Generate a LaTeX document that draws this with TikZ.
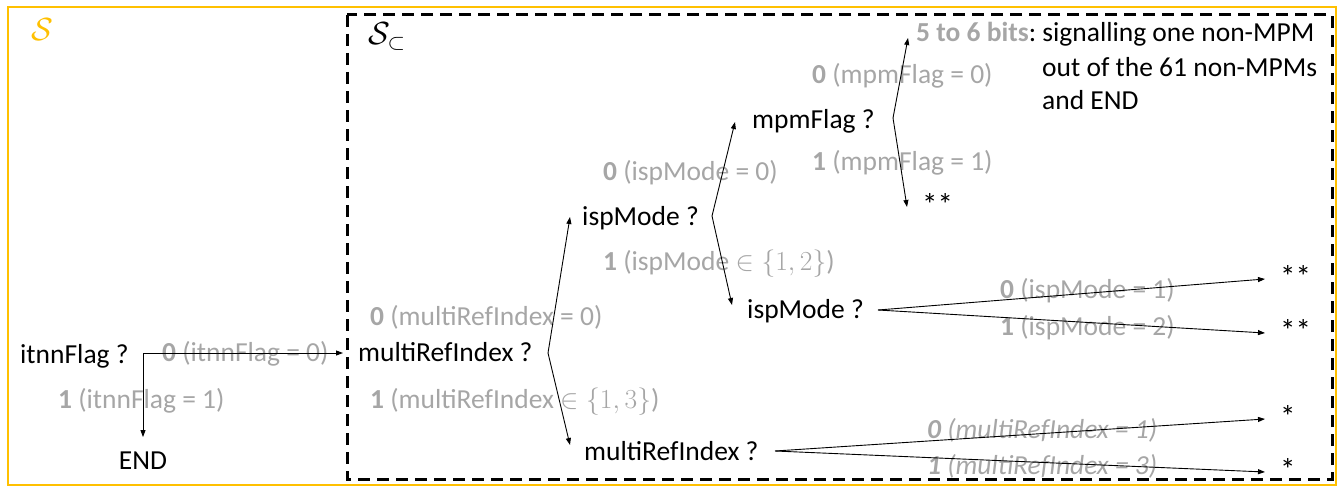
\documentclass[tikz,border=0pt]{standalone}
\usepackage{fix-cm}
\usepackage{fontspec}
\setmainfont{Carlito}
\usetikzlibrary{arrows.meta}
\definecolor{orng}{RGB}{255,192,0}
\definecolor{labgray}{RGB}{166,166,166}
\frenchspacing
\begin{document}
\begin{tikzpicture}[x=1pt,y=-1pt, font=\fontsize{27.5}{33}\selectfont,
  txt/.style={inner sep=0pt, anchor=west, text height=17.5pt, text depth=0pt},
  lab/.style={txt, text=labgray},
  star/.style={txt, font=\fontsize{31}{36}\selectfont},
  conn/.style={line width=0.9pt, -{Triangle[length=7pt,width=5pt]}},
]
\useasboundingbox (0,0) rectangle (1338,487);
\draw[orng, line width=2pt] (8,7) rectangle (1336,485);
\draw[black, line width=3pt, dash pattern=on 12pt off 7pt] (347,15) rectangle (1332,479);

% set titles
\node[txt, text=orng, font=\fontsize{32}{36}\selectfont] (S) at (31,32) {$\mathcal{S}$};
\node[txt, font=\fontsize{32}{36}\selectfont] (Ssub) at (368,36) {$\mathcal{S}_\subset$};

% decision nodes
\node[txt] (itnn) at (20,355) {itnnFlag ?};
\node[txt, anchor=center] (endn) at (143,461) {END};
\node[txt] (mri1) at (358,353) {multiRefIndex ?};
\node[txt] (isp1) at (582,217) {ispMode ?};
\node[txt] (mri2) at (584,452) {multiRefIndex ?};
\node[txt] (mpm) at (752,120) {mpmFlag ?};
\node[txt] (isp2) at (747,310) {ispMode ?};
\node[txt] (bits) at (916,33) {{\color{labgray}\textbf{5 to 6 bits}}: signalling one non-MPM};
\node[txt] (cont1) at (1042,68) {out of the 61 non-MPMs};
\node[txt] (cont2) at (1042,101) {and END};
\node[star] (s1) at (922,207) {**};
\node[star] (s2) at (1280,279) {**};
\node[star] (s3) at (1280,333) {**};
\node[star] (s4) at (1280,419) {*};
\node[star] (s5) at (1280,472) {*};

% labels
\node[lab] (l1) at (162,353) {\textbf{0} (itnnFlag = 0)};
\node[lab] (l2) at (58,400) {\textbf{1} (itnnFlag = 1)};
\node[lab] (l3) at (370,317) {\textbf{0} (multiRefIndex = 0)};
\node[lab] (l4) at (370,400) {\textbf{1} (multiRefIndex $\in\{1,3\}$)};
\node[lab] (l5) at (603,172) {\textbf{0} (ispMode = 0)};
\node[lab] (l6) at (603,262) {\textbf{1} (ispMode $\in\{1,2\}$)};
\node[lab] (l7) at (812,75) {\textbf{0} (mpmFlag = 0)};
\node[lab] (l8) at (812,162) {\textbf{1} (mpmFlag = 1)};
\node[lab] (l9) at (1000,290) {\textbf{0} (ispMode = 1)};
\node[lab] (l10) at (1000,327) {\textbf{1} (ispMode = 2)};
\node[lab] (l11) at (927,430) {\textit{\textbf{0} (multiRefIndex = 1)}};
\node[lab] (l12) at (927,466) {\textit{\textbf{1} (multiRefIndex = 3)}};

% fork points
\coordinate (j1) at (143,353);
\coordinate (f2) at (548,353);
\coordinate (f3) at (712,216);
\coordinate (f4) at (893,118);
\coordinate (f5) at (878,310);
\coordinate (f6) at (775,451);

% connectors
\draw[conn] (j1) -- ([xshift=-15pt]mri1.west);
\draw[conn] (j1) -- ([yshift=15pt]endn.north);
\draw[conn] (f2) -- ([xshift=-12pt]isp1.west);
\draw[conn] (f2) -- ([xshift=-14pt,yshift=7pt]mri2.west);
\draw[conn] (f3) -- ([xshift=-17pt,yshift=-2pt]mpm.west);
\draw[conn] (f3) -- ([xshift=-15pt,yshift=5pt]isp2.west);
\draw[conn] (f4) -- ([xshift=-8pt,yshift=-5pt]bits.west);
\draw[conn] (f4) -- ([xshift=-15pt]s1.west);
\draw[conn] (f5) -- ([xshift=-15pt]s2.west);
\draw[conn] (f5) -- ([xshift=-15pt]s3.west);
\draw[conn] (f6) -- ([xshift=-15pt]s4.west);
\draw[conn] (f6) -- ([xshift=-15pt]s5.west);
\end{tikzpicture}
\end{document}
